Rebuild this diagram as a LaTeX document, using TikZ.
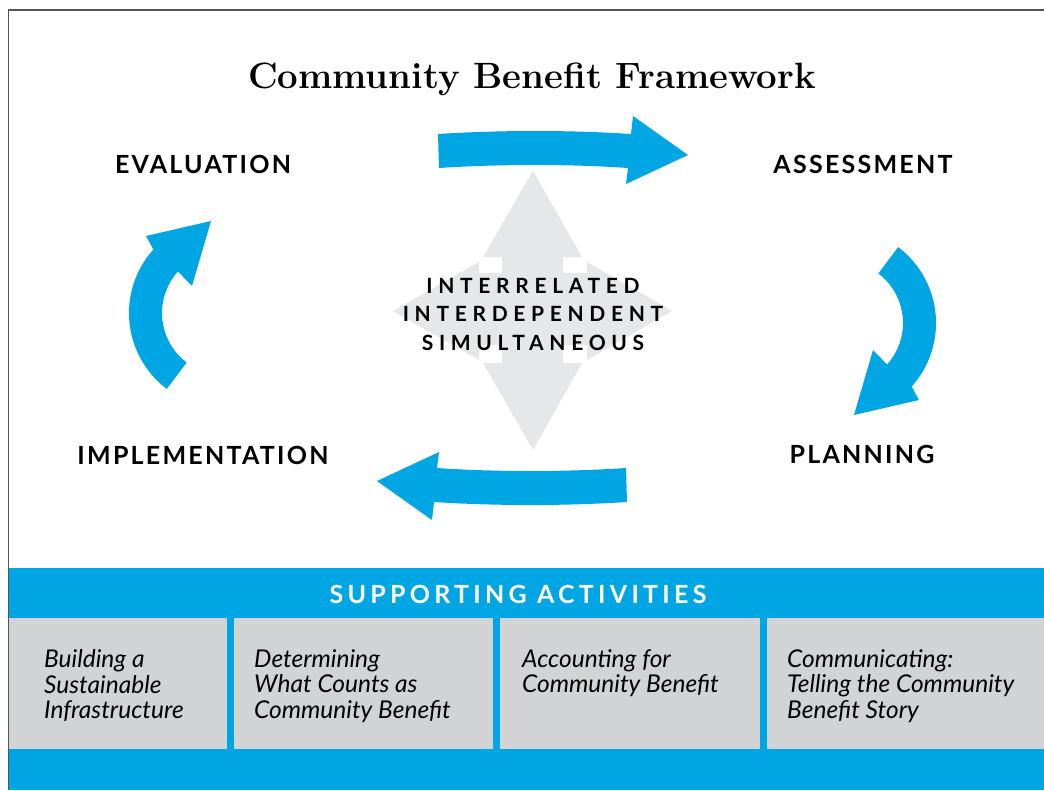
\documentclass[tikz,border=0pt]{standalone}
\usepackage{fontspec}
\usetikzlibrary{calc}
\newfontfamily\headfont[LetterSpace=9]{Lato}
\newfontfamily\trackfont[LetterSpace=27]{Lato}
\newfontfamily\bandfont[LetterSpace=17]{Lato}
\newfontfamily\bodyfont{Lato}

\definecolor{cbblue}{RGB}{0,165,227}
\definecolor{cbbox}{RGB}{209,211,212}
\definecolor{cblight}{RGB}{230,231,232}
\definecolor{cbframe}{RGB}{85,85,85}

\tikzset{
  phase/.style={font=\headfont\bfseries\fontsize{25}{28}\selectfont, anchor=base, inner sep=0},
  cycleword/.style={font=\trackfont\bfseries\fontsize{21}{28.5}\selectfont, align=center, inner sep=0},
  actbox/.style={fill=cbbox, draw=none, anchor=north west, minimum height=131pt, inner sep=0},
  acttext/.style={font=\bodyfont\itshape\fontsize{24.5}{25.8}\selectfont, align=left, anchor=north west, inner sep=0},
  flow/.style={fill=cbblue, draw=none},
}

\begin{document}
\begin{tikzpicture}[x=1pt,y=-1pt]
\useasboundingbox (0,0) rectangle (1044,790);
\fill[white] (0,0) rectangle (1044,790);

% title
\node[font=\bfseries\fontsize{36.6}{40}\selectfont, anchor=base, inner sep=0] (title) at (532,88) {Community Benefit Framework};

% four-way grey arrow in the middle
\fill[cblight] (533,171) -- (582,257) -- (563,257) -- (563,363) -- (582,363) -- (533,450)
  -- (483,363) -- (502,363) -- (502,257) -- (483,257) -- cycle;
\fill[cblight] (393,311) -- (479,262) -- (479,273) -- (587,273) -- (587,262) -- (672,311)
  -- (587,360) -- (587,345) -- (479,345) -- (479,360) -- cycle;
\node[cycleword] (core) at (533,314) {INTERRELATED\\INTERDEPENDENT\\SIMULTANEOUS};

% phase labels
\node[phase] (eval) at (203,173) {EVALUATION};
\node[phase] (assess) at (863,173) {ASSESSMENT};
\node[phase] (impl) at (203,464) {IMPLEMENTATION};
\node[phase] (plan) at (862,463) {PLANNING};

% cycle arrows: top and left, then the same pair turned half way round
\fill[flow] (438,134) .. controls (500,130) and (570,130) .. (631,134) -- (633,116) -- (688,155)
  -- (626,184) -- (628,168) .. controls (570,164) and (500,164) .. (439,168) -- cycle;
\fill[flow] ($(224,313)+(127:95)$) arc[start angle=127, end angle=222, radius=95]
  -- (146,236) -- (211,221) -- (192,286) -- ($(224,313)+(222:62)$)
  arc[start angle=222, end angle=127, radius=62] -- cycle;
\begin{scope}[rotate around={180:(532.5,318)}]
\fill[flow] (438,134) .. controls (500,130) and (570,130) .. (631,134) -- (633,116) -- (688,155)
  -- (626,184) -- (628,168) .. controls (570,164) and (500,164) .. (439,168) -- cycle;
\fill[flow] ($(224,313)+(127:95)$) arc[start angle=127, end angle=222, radius=95]
  -- (146,236) -- (211,221) -- (192,286) -- ($(224,313)+(222:62)$)
  arc[start angle=222, end angle=127, radius=62] -- cycle;
\end{scope}

% supporting activities band
\fill[cbblue] (9,568) rectangle (1044,790);
\node[font=\bandfont\bfseries\fontsize{25}{28}\selectfont, text=white, anchor=base, inner sep=0] (band) at (518,603) {SUPPORTING ACTIVITIES};

\node[actbox, minimum width=218pt] (box1) at (9,618) {};
\node[actbox, minimum width=259pt] (box2) at (234,618) {};
\node[actbox, minimum width=260pt] (box3) at (500,618) {};
\node[actbox, minimum width=277pt] (box4) at (767,618) {};

\node[acttext] (t1) at (44,649) {Building a\\Sustainable\\Infrastructure};
\node[acttext] (t2) at (254,649) {Determining\\What Counts as\\Community Benefit};
\node[acttext] (t3) at (522,649) {Accounting for\\Community Benefit};
\node[acttext] (t4) at (787,649) {Communicating:\\Telling the Community\\Benefit Story};

% frame
\draw[cbframe, line width=1.4pt] (8.5,790) -- (8.5,10) -- (1044,10);
\end{tikzpicture}
\end{document}
